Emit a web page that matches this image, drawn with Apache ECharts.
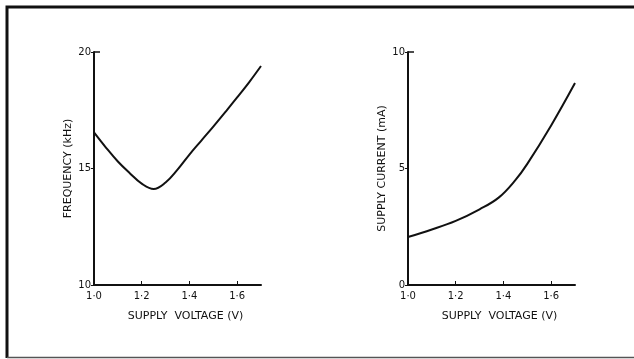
<!DOCTYPE html>
<html>
<head>
<meta charset="utf-8">
<script src="https://cdn.jsdelivr.net/npm/echarts@6/dist/echarts.min.js"></script>
<style>
  html, body { margin: 0; padding: 0; background: #fff; }
  #chart { width: 634px; height: 359px; }
</style>
</head>
<body>
<div id="chart"></div>
<script>
// Oscillator behaviour against supply voltage
const xTicks = [1.0, 1.2, 1.4, 1.6];
const freqTicks = [10, 15, 20];
const currTicks = [0, 5, 10];

// Frequency (kHz) vs supply voltage (V)
const freqVolts = [1.0, 1.05, 1.1, 1.15, 1.2, 1.25, 1.3, 1.35, 1.4, 1.45, 1.5, 1.55, 1.6, 1.65, 1.7];
const freqValues = [16.55, 15.9, 15.3, 14.8, 14.35, 14.12, 14.4, 14.95, 15.6, 16.2, 16.8, 17.42, 18.05, 18.7, 19.4];

// Supply current (mA) vs supply voltage (V)
const currVolts = [1.0, 1.1, 1.2, 1.3, 1.38, 1.45, 1.5, 1.6, 1.7];
const currValues = [2.06, 2.38, 2.75, 3.25, 3.75, 4.5, 5.2, 6.85, 8.67];

const ink = '#111';
const font = 'DejaVu Sans';

function pairs(xs, ys) { return xs.map((x, i) => [x, ys[i]]); }

function xAxisFor(gridIndex) {
  return {
    type: 'value', gridIndex: gridIndex, min: 1.0, max: 1.7, interval: 0.2,
    name: 'SUPPLY  VOLTAGE (V)', nameLocation: 'middle', nameGap: 26,
    nameTextStyle: { color: ink, fontFamily: font, fontSize: 11, padding: [0, 0, 0, 16] },
    axisLine: { show: true, lineStyle: { color: ink, width: 2 } },
    axisTick: { show: true, inside: true, length: 4, lineStyle: { color: ink, width: 1 } },
    axisLabel: {
      color: ink, fontFamily: font, fontSize: 10, margin: 6, showMaxLabel: false,
      formatter: v => xTicks.some(t => Math.abs(t - v) < 1e-6) ? v.toFixed(1).replace('.', '\u00B7') : ''
    },
    splitLine: { show: false }
  };
}

function yAxisFor(gridIndex, min, max, name) {
  return {
    type: 'value', gridIndex: gridIndex, min: min, max: max, interval: (max - min) / 2,
    name: name, nameLocation: 'middle', nameGap: 20,
    nameTextStyle: { color: ink, fontFamily: font, fontSize: 11 },
    axisLine: { show: true, lineStyle: { color: ink, width: 2 } },
    axisTick: { show: true, inside: false, length: 3, lineStyle: { color: ink, width: 1 } },
    axisLabel: { color: ink, fontFamily: font, fontSize: 10, margin: 3 },
    splitLine: { show: false }
  };
}

function curve(xi, data) {
  return {
    type: 'line', xAxisIndex: xi, yAxisIndex: xi, data: data,
    smooth: 0.4, symbol: 'none',
    lineStyle: { color: ink, width: 2 }
  };
}

const chart = echarts.init(document.getElementById('chart'), null, { renderer: 'canvas' });
chart.setOption({
  backgroundColor: '#fff',
  animation: false,
  grid: [
    { left: 94, top: 52, width: 167, height: 233 },
    { left: 408, top: 52, width: 167, height: 233 }
  ],
  xAxis: [xAxisFor(0), xAxisFor(1)],
  yAxis: [
    yAxisFor(0, freqTicks[0], freqTicks[2], 'FREQUENCY (kHz)'),
    yAxisFor(1, currTicks[0], currTicks[2], 'SUPPLY CURRENT (mA)')
  ],
  series: [
    curve(0, pairs(freqVolts, freqValues)),
    curve(1, pairs(currVolts, currValues))
  ],
  graphic: [
    // page frame: heavy top and left rules, lighter bottom rule
    { type: 'polyline', shape: { points: [[634, 7], [7, 7], [7, 358]] },
      style: { stroke: ink, lineWidth: 3, fill: null } },
    { type: 'line', shape: { x1: 7, y1: 357.5, x2: 634, y2: 357.5 },
      style: { stroke: '#555', lineWidth: 1.5 } },
    // small caps at the top of each vertical axis
    { type: 'line', shape: { x1: 94, y1: 52, x2: 100, y2: 52 }, style: { stroke: ink, lineWidth: 1.5 } },
    { type: 'line', shape: { x1: 408, y1: 52, x2: 414, y2: 52 }, style: { stroke: ink, lineWidth: 1.5 } }
  ]
});
</script>
</body>
</html>
